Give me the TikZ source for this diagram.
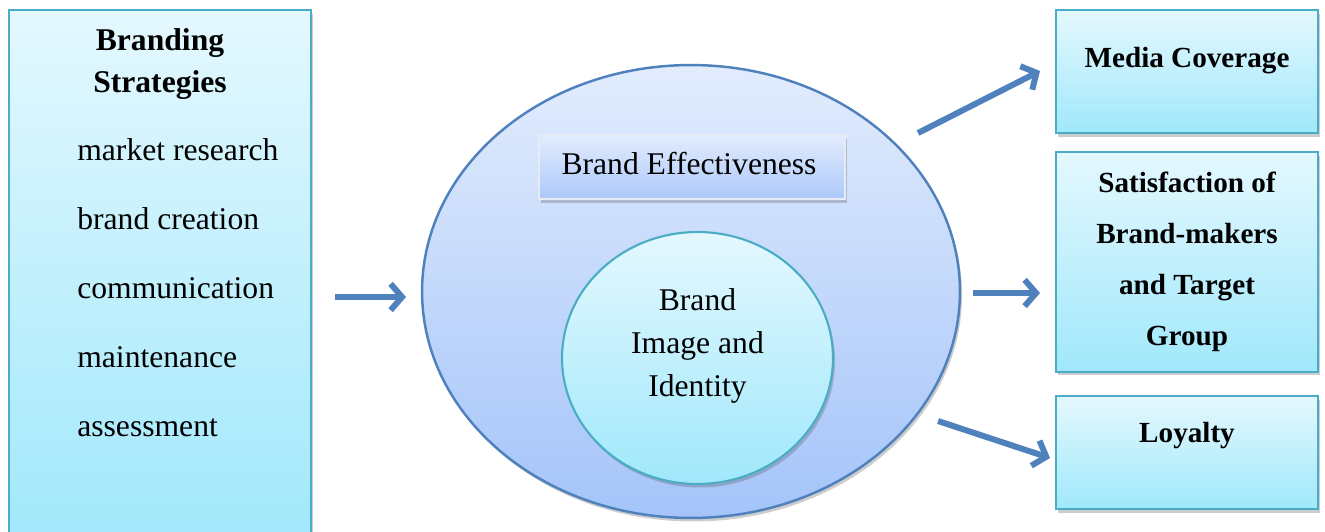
\documentclass[tikz,border=0pt]{standalone}
\usepackage{fontspec}
\setmainfont{Liberation Serif}
\usetikzlibrary{shadings,shadows,arrows.meta,shapes.geometric}

\definecolor{aquaTop}{RGB}{228,248,254}
\definecolor{aquaBot}{RGB}{160,232,251}
\definecolor{aquaLine}{RGB}{75,172,198}
\definecolor{lilacTop}{RGB}{226,236,253}
\definecolor{lilacBot}{RGB}{164,196,249}
\definecolor{lilacLine}{RGB}{79,129,189}
\definecolor{tagTop}{RGB}{226,236,253}
\definecolor{tagBot}{RGB}{172,200,250}
\definecolor{arrowBlue}{RGB}{79,129,189}

\tikzset{
  softshadow/.style={drop shadow={shadow xshift=1.2pt, shadow yshift=-2pt, opacity=0.28, fill=black!70}},
  aquabox/.style={rectangle, draw=aquaLine, line width=1.2pt, top color=aquaTop, bottom color=aquaBot, inner sep=0pt, softshadow},
  bigoval/.style={ellipse, draw=lilacLine, line width=1.4pt, top color=lilacTop, bottom color=lilacBot, inner sep=0pt, softshadow},
  innerdisc/.style={ellipse, draw=aquaLine, line width=1.2pt, top color=aquaTop, bottom color=aquaBot, inner sep=0pt, softshadow},
  tagbox/.style={rectangle, draw=white!85!lilacLine, line width=1.2pt, top color=tagTop, bottom color=tagBot, inner sep=0pt, softshadow},
  bigtext/.style={font=\fontsize{18}{23}\selectfont, anchor=base, inner sep=0pt},
  listtext/.style={font=\fontsize{18}{23}\selectfont, anchor=base west, inner sep=0pt},
  headtext/.style={font=\bfseries\fontsize{18}{23}\selectfont, anchor=base, inner sep=0pt},
  sidetext/.style={font=\bfseries\fontsize{16.6}{21}\selectfont, anchor=base, inner sep=0pt},
  flow/.style={draw=arrowBlue, line width=3.4pt, -{Straight Barb[length=6.5pt, width=15pt]}},
}

\begin{document}
\begin{tikzpicture}[x=0.02cm, y=-0.02cm]
\clip (0,0) rectangle (1325,531);
\fill[white] (0,0) rectangle (1325,531);

% left column: strategies
\node[aquabox, minimum width=6.04cm, minimum height=10.8cm] (strat) at (160,280) {};
\node[headtext] (stratA) at (160,50) {Branding};
\node[headtext] (stratB) at (160,92) {Strategies};
\node[listtext] (s1) at (77,160) {market research};
\node[listtext] (s2) at (77,229) {brand creation};
\node[listtext] (s3) at (77,298) {communication};
\node[listtext] (s4) at (77,367) {maintenance};
\node[listtext] (s5) at (77,436) {assessment};

% centre: effectiveness oval with the image disc inside
\node[bigoval, minimum width=10.76cm, minimum height=9.06cm] (eff) at (691,291.5) {};
\node[tagbox, minimum width=6.12cm, minimum height=1.28cm] (efftag) at (692,167) {};
\node[bigtext] (effT) at (689,174) {Brand Effectiveness};
\node[innerdisc, minimum width=5.42cm, minimum height=5.04cm] (img) at (697.5,358) {};
\node[bigtext] (img1) at (697.5,310) {Brand};
\node[bigtext] (img2) at (697.5,353) {Image and};
\node[bigtext] (img3) at (697.5,396) {Identity};

% right column: outcomes
\node[aquabox, minimum width=5.24cm, minimum height=2.46cm] (media) at (1187,71.5) {};
\node[sidetext] (mediaT) at (1187,67) {Media Coverage};
\node[aquabox, minimum width=5.24cm, minimum height=4.4cm] (satis) at (1187,262) {};
\node[sidetext] (sat1) at (1187,192) {Satisfaction of};
\node[sidetext] (sat2) at (1187,243) {Brand-makers};
\node[sidetext] (sat3) at (1187,294) {and Target};
\node[sidetext] (sat4) at (1187,345) {Group};
\node[aquabox, minimum width=5.24cm, minimum height=2.26cm] (loyal) at (1187,452.5) {};
\node[sidetext] (loyalT) at (1187,442) {Loyalty};

% arrow ends
\coordinate (inS) at (335,297);
\coordinate (inE) at (406,297);
\coordinate (upS) at (918,133);
\coordinate (upE) at (1040,71);
\coordinate (midS) at (973,293);
\coordinate (midE) at (1040,293);
\coordinate (lowS) at (938,421);
\coordinate (lowE) at (1050,458);

\draw[flow] (inS) -- (inE);
\draw[flow] (upS) -- (upE);
\draw[flow] (midS) -- (midE);
\draw[flow] (lowS) -- (lowE);
\end{tikzpicture}
\end{document}
